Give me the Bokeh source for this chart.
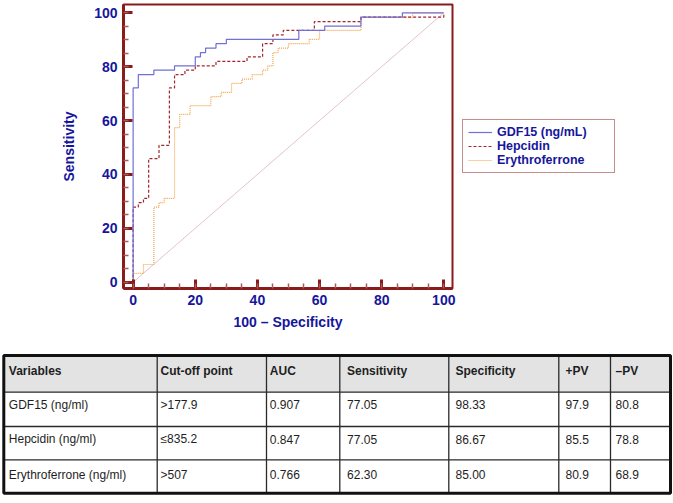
from bokeh.plotting import figure
from bokeh.models import Range1d, SingleIntervalTicker, Legend, LegendItem
from bokeh.layouts import column
from bokeh.embed import file_html
from bokeh.resources import INLINE
from bokeh.core.properties import value

# ---------------- data ----------------
gdf15_fpr = [0, 0, 1.67, 6.67, 13.33, 20, 21.67, 23.33, 26.67, 30, 53.33, 61.67, 73.33, 86.67, 100]
gdf15_tpr = [0, 72.13, 77.05, 78.69, 80.33, 83.61, 85.25, 86.89, 88.52, 90.16, 93.44, 95.08, 98.36, 100, 100]

hepc_fpr = [0, 0, 1.67, 3.33, 5, 8.33, 11.67, 13.33, 16.67, 20, 26.67, 36.67, 41.67, 45, 48.33, 58.33, 73.33, 100]
hepc_tpr = [0, 27.87, 29.51, 31.15, 45.90, 50.82, 72.13, 77.05, 78.69, 80.33, 81.97, 83.61, 88.52, 91.80, 93.44, 96.72, 98.36, 100]

ery_fpr = [0, 0, 3.33, 6.67, 8.33, 10, 13.33, 15, 18.33, 25, 28.33, 31.67, 35, 38.33, 41.67, 43.33, 45, 46.67, 50, 56.67, 60, 73.33, 90, 100]
ery_tpr = [0, 3.28, 6.56, 27.87, 29.51, 31.15, 57.38, 62.30, 65.57, 68.85, 70.49, 73.77, 75.41, 77.05, 78.69, 80.33, 85.25, 86.89, 88.52, 90.16, 93.44, 98.36, 100, 100]

diag_x = [0, 100]
diag_y = [0, 100]

series_labels = ["GDF15 (ng/mL)", "Hepcidin", "Erythroferrone"]

headers = ["Variables", "Cut-off point", "AUC", "Sensitivity", "Specificity", "+PV", "\u2013PV"]
variables = ["GDF15 (ng/ml)", "Hepcidin (ng/ml)", "Erythroferrone (ng/ml)"]
cutoff = [">177.9", "\u2264835.2", ">507"]
auc = ["0.907", "0.847", "0.766"]
sensitivity = ["77.05", "77.05", "62.30"]
specificity = ["98.33", "86.67", "85.00"]
ppv = ["97.9", "85.5", "80.9"]
npv = ["80.8", "78.8", "68.9"]

# ---------------- styles ----------------
FONT = "Liberation Sans"
TXT_BLUE = "#16169c"
FRAME = "#8b1a1a"

p = figure(frame_width=329, frame_height=284,
           x_range=Range1d(-3.1, 102.8), y_range=Range1d(-2.34, 103.08),
           output_backend="svg", toolbar_location=None,
           min_border_left=123, min_border_right=221, min_border_top=4, min_border_bottom=57)
p.frame_align = False
p.grid.visible = False
p.outline_line_color = FRAME
p.outline_line_width = 2
p.background_fill_color = "white"
p.border_fill_color = "white"

p.xaxis.ticker = SingleIntervalTicker(interval=20, num_minor_ticks=4)
p.yaxis.ticker = SingleIntervalTicker(interval=20, num_minor_ticks=4)
p.xaxis.axis_label = "100 \u2013 Specificity"
p.yaxis.axis_label = "Sensitivity"
for ax in (p.xaxis[0], p.yaxis[0]):
    ax.axis_line_color = FRAME
    ax.axis_line_width = 3
    ax.major_tick_in = 9
    ax.major_tick_out = 0
    ax.major_tick_line_color = FRAME
    ax.major_tick_line_width = 3
    ax.minor_tick_in = 5
    ax.minor_tick_out = 0
    ax.minor_tick_line_color = "#a85a5a"
    ax.minor_tick_line_width = 1.5
    ax.major_label_text_font = FONT
    ax.major_label_text_font_style = "bold"
    ax.major_label_text_font_size = "14px"
    ax.major_label_text_color = TXT_BLUE
    ax.major_label_standoff = 6
    ax.axis_label_text_font = FONT
    ax.axis_label_text_font_style = "bold"
    ax.axis_label_text_font_size = "14px"
    ax.axis_label_text_color = TXT_BLUE
p.xaxis.axis_label_standoff = 6
p.yaxis.axis_label_standoff = 14

p.line(diag_x, diag_y, line_color="#dcb4bc", line_width=0.8)
r_e = p.step(x=ery_fpr, y=ery_tpr, mode="after", line_color="#f5a24a", line_width=1.2, line_dash="1 1")
r_h = p.step(x=hepc_fpr, y=hepc_tpr, mode="after", line_color="#a3262c", line_width=1.2, line_dash="3 2")
r_g = p.step(x=gdf15_fpr, y=gdf15_tpr, mode="after", line_color="#7070d6", line_width=1.2)

legend = Legend(items=[LegendItem(label=series_labels[0], renderers=[r_g]),
                       LegendItem(label=series_labels[1], renderers=[r_h]),
                       LegendItem(label=series_labels[2], renderers=[r_e])],
                location="center_left", border_line_color=FRAME, border_line_width=1.5,
                padding=5, spacing=0, glyph_width=24, glyph_height=12, label_height=12,
                label_width=112, label_standoff=5, margin=10,
                label_text_font=FONT, label_text_font_style="bold", label_text_font_size="12.5px",
                label_text_line_height=1.0,
                label_text_color=TXT_BLUE, background_fill_color="white")
p.add_layout(legend, "right")

# ---------------- table ----------------
TW, TH = 673, 158
col_edges = [3.3, 156.7, 266, 339.3, 448.3, 558.3, 610, 670]
col_pads = [5, 3.3, 3.3, 7.3, 6.7, 6.7, 5]
row_edges = [10, 46.7, 81, 114.3, 147.7]
header_y = 25
row_text_y = [59, 93.5, 129]

t = figure(width=TW, height=TH, x_range=Range1d(0, TW), y_range=Range1d(TH, 0),
           output_backend="svg", toolbar_location=None, min_border=0,
           x_axis_type=None, y_axis_type=None)
t.frame_align = False
t.grid.visible = False
t.outline_line_color = None

t.quad(left=[col_edges[0]], right=[col_edges[-1]], top=[row_edges[0]], bottom=[row_edges[1]],
       fill_color="#e3e3e3", line_color=None)
t.segment(x0=col_edges[1:-1], y0=[row_edges[0]] * 6, x1=col_edges[1:-1], y1=[row_edges[-1]] * 6,
          line_color="#2a2a2a", line_width=1.3)
t.segment(x0=[col_edges[0]] * 3, y0=row_edges[1:-1], x1=[col_edges[-1]] * 3, y1=row_edges[1:-1],
          line_color="#2a2a2a", line_width=1.3)
t.quad(left=[col_edges[0]], right=[col_edges[-1]], top=[row_edges[0]], bottom=[row_edges[-1]],
       fill_color=None, line_color="#111111", line_width=3)

hx = [col_edges[i] + col_pads[i] for i in range(7)]
t.text(x=hx, y=[header_y] * 7, text=headers, text_font=value(FONT), text_font_style="bold",
       text_font_size="12px", text_baseline="middle", text_color="#1e1e1e")

columns = [variables, cutoff, auc, sensitivity, specificity, ppv, npv]
bx, by, bt = [], [], []
for r in range(3):
    for c in range(7):
        bx.append(col_edges[c] + col_pads[c])
        by.append(row_text_y[r])
        bt.append(columns[c][r])
t.text(x=bx, y=by, text=bt, text_font=value(FONT), text_font_size="12px",
       text_baseline="middle", text_color="#1e1e1e")

layout = column(p, t, spacing=0)
open("out.html", "w").write(file_html(layout, INLINE))
